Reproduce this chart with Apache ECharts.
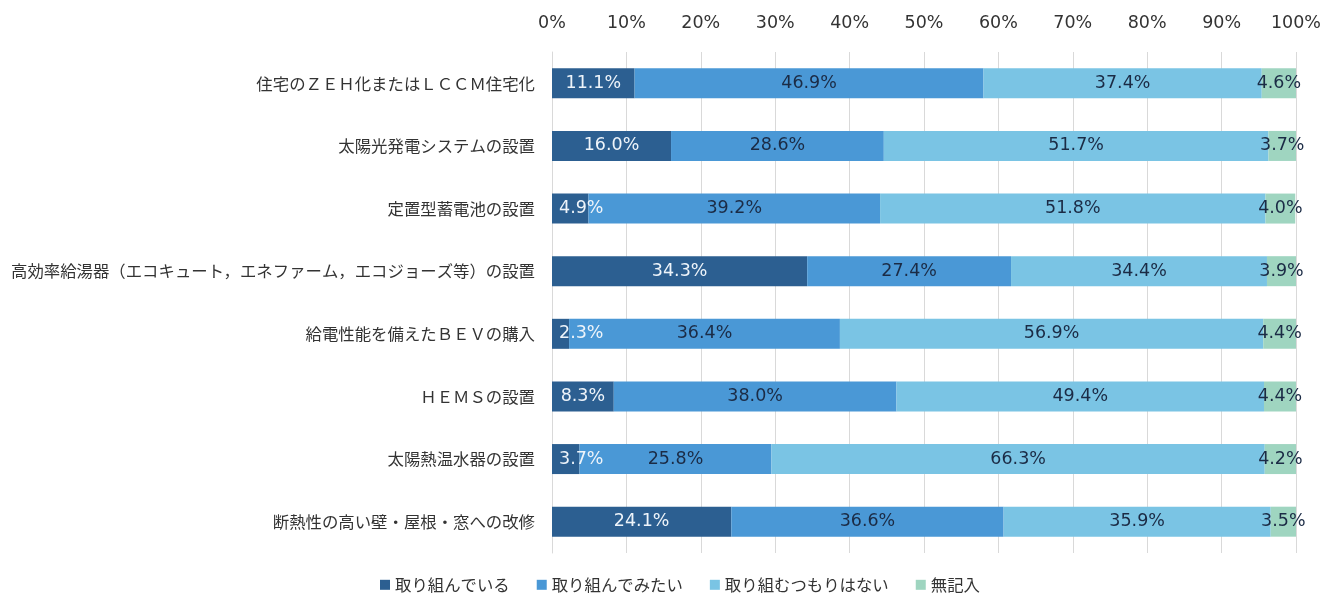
<!DOCTYPE html>
<html>
<head>
<meta charset="utf-8">
<script src="https://cdn.jsdelivr.net/npm/echarts@6/dist/echarts.min.js"></script>
<style>
  html, body { margin: 0; padding: 0; background: #fff; }
  #chart { width: 1324px; height: 596px; }
</style>
</head>
<body>
<div id="chart"></div>
<script>
// 項目（上から順）
const categories = [
  '住宅のＺＥＨ化またはＬＣＣＭ住宅化',
  '太陽光発電システムの設置',
  '定置型蓄電池の設置',
  '高効率給湯器（エコキュート，エネファーム，エコジョーズ等）の設置',
  '給電性能を備えたＢＥＶの購入',
  'ＨＥＭＳの設置',
  '太陽熱温水器の設置',
  '断熱性の高い壁・屋根・窓への改修'
];

const seriesNames = ['取り組んでいる', '取り組んでみたい', '取り組むつもりはない', '無記入'];

const doing    = [11.1, 16.0, 4.9, 34.3, 2.3, 8.3, 3.7, 24.1];
const wantTo   = [46.9, 28.6, 39.2, 27.4, 36.4, 38.0, 25.8, 36.6];
const notPlan  = [37.4, 51.7, 51.8, 34.4, 56.9, 49.4, 66.3, 35.9];
const noAnswer = [4.6, 3.7, 4.0, 3.9, 4.4, 4.4, 4.2, 3.5];

const colors = ['#2c5f91', '#4a98d6', '#7ac4e4', '#9fd5c0'];
const labelColors = ['#eef4fa', '#1b2b45', '#1b2b45', '#1b2b45'];

const jpFont = '"Noto Sans CJK JP", "Noto Sans", sans-serif';
const numFont = '"DejaVu Sans", "Noto Sans CJK JP", sans-serif';

const chart = echarts.init(document.getElementById('chart'));

function makeSeries(name, data, i) {
  // 幅の狭い先頭の区間はラベルを左寄せ（Excel風に枠内へずらす）
  const items = data.map(v => {
    if (i === 0 && v < 6) {
      return { value: v, label: { position: 'insideLeft', distance: 7 } };
    }
    return v;
  });
  return {
    name: name,
    type: 'bar',
    stack: 'total',
    data: items,
    barWidth: 30,
    itemStyle: { color: colors[i] },
    label: {
      show: true,
      position: 'inside',
      formatter: p => p.value.toFixed(1) + '%',
      color: labelColors[i],
      fontSize: 17.5,
      fontFamily: numFont
    },
    labelLayout: { hideOverlap: false }
  };
}

const option = {
  animation: false,
  legend: {
    data: seriesNames,
    bottom: -2,
    left: 375,
    itemWidth: 10,
    itemHeight: 10,
    itemGap: 27,
    icon: 'rect',
    textStyle: { fontSize: 16.4, color: '#333', fontFamily: jpFont }
  },
  grid: { left: 552, right: 28, top: 52, bottom: 43 },
  xAxis: {
    type: 'value',
    position: 'top',
    min: 0,
    max: 100,
    interval: 10,
    axisLabel: {
      formatter: '{value}%',
      fontSize: 17.5,
      color: '#333',
      fontFamily: numFont,
      margin: 20
    },
    axisLine: { show: false },
    axisTick: { show: false },
    splitLine: { lineStyle: { color: '#d9d9d9', width: 1 } }
  },
  yAxis: {
    type: 'category',
    data: categories,
    inverse: true,
    axisLabel: {
      fontSize: 16.4,
      color: '#333',
      fontFamily: jpFont,
      margin: 17
    },
    axisLine: { show: true, lineStyle: { color: '#d9d9d9' } },
    axisTick: { show: false }
  },
  series: [
    makeSeries(seriesNames[0], doing, 0),
    makeSeries(seriesNames[1], wantTo, 1),
    makeSeries(seriesNames[2], notPlan, 2),
    makeSeries(seriesNames[3], noAnswer, 3)
  ]
};

chart.setOption(option);
</script>
</body>
</html>
